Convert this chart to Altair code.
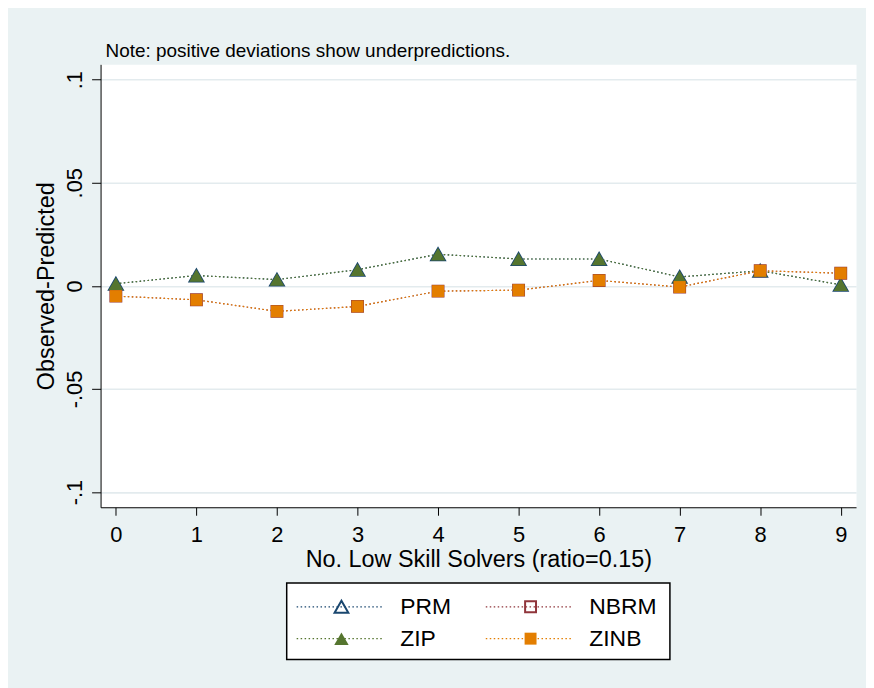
import altair as alt
import pandas as pd

FONT = "Liberation Sans"

# ---- data ----
x_vals = [0, 1, 2, 3, 4, 5, 6, 7, 8, 9]
series_names = ["PRM", "NBRM", "ZIP", "ZINB"]
prm_vals = [0.001, 0.005, 0.003, 0.0078, 0.0153, 0.013, 0.013, 0.0043, 0.0073, 0.0005]
nbrm_vals = [-0.005, -0.0068, -0.0124, -0.010, -0.0026, -0.0021, 0.0026, -0.0006, 0.0073, 0.0061]
zip_vals = [0.001, 0.005, 0.003, 0.0078, 0.0153, 0.013, 0.013, 0.0043, 0.0073, 0.0005]
zinb_vals = [-0.005, -0.0068, -0.0124, -0.010, -0.0026, -0.0021, 0.0026, -0.0006, 0.0073, 0.0061]
y_ticks = [-0.1, -0.05, 0, 0.05, 0.1]

colors = {"PRM": "#1a476f", "NBRM": "#90353b", "ZIP": "#55752f", "ZINB": "#e37e00"}
shapes = {"PRM": "triangle-up", "NBRM": "square", "ZIP": "triangle-up", "ZINB": "square"}
filled = {"PRM": False, "NBRM": False, "ZIP": True, "ZINB": True}
sizes = {"PRM": 190, "NBRM": 120, "ZIP": 210, "ZINB": 144}

rows = []
for name, vals in zip(series_names, [prm_vals, nbrm_vals, zip_vals, zinb_vals]):
    for xv, v in zip(x_vals, vals):
        rows.append({"series": name, "x": xv, "value": v})
df = pd.DataFrame(rows)

X = alt.X("x:Q",
          scale=alt.Scale(domain=[-0.19, 9.19], nice=False, zero=False),
          axis=alt.Axis(values=x_vals, format="d", grid=False, tickSize=8,
                        labelPadding=9, labelFontSize=22,
                        title="No. Low Skill Solvers (ratio=0.15)",
                        titleFontSize=23.5, titlePadding=3))
Y = alt.Y("value:Q",
          scale=alt.Scale(domain=[-0.1074, 0.1074], nice=False, zero=False),
          axis=alt.Axis(values=y_ticks, grid=True, gridColor="#e3ebee", gridWidth=1.6,
                        tickSize=9, labelAngle=270, labelAlign="center",
                        labelBaseline="bottom", labelPadding=5, labelFontSize=22,
                        labelExpr="replace(toString(datum.value), '0.', '.')",
                        title="Observed-Predicted", titleFontSize=23.5, titlePadding=5))

base = alt.Chart(df)
layers = []
for s in series_names:
    d = base.transform_filter(alt.datum.series == s)
    layers.append(d.mark_line(color=colors[s], strokeDash=[1.5, 2.5], strokeWidth=1.2).encode(x=X, y=Y))
    layers.append(d.mark_point(shape=shapes[s], filled=filled[s], color=colors[s],
                               size=sizes[s], opacity=1, strokeWidth=2).encode(x=X, y=Y))

plot = alt.layer(*layers).properties(
    width=759, height=445,
    view=alt.ViewBackground(fill="white", stroke="transparent"),
    title=alt.TitleParams("Note: positive deviations show underpredictions.",
                          anchor="start", frame="group", fontSize=19, fontWeight="normal",
                          font=FONT, color="black", baseline="alphabetic", offset=-12, dx=5),
)

# ---- legend panel ----
legend_cols = [0, 1, 0, 1]
legend_rows = [0, 0, 1, 1]
leg_df = pd.DataFrame({"series": series_names, "col": legend_cols, "row": legend_rows})
lbase = alt.Chart(leg_df).transform_calculate(
    lx1="10 + 190 * datum.col",
    lx2="96 + 190 * datum.col",
    mx="55 + 190 * datum.col",
    tx="114 + 190 * datum.col",
    ly="24 + 32 * datum.row",
)
LXS = alt.Scale(domain=[0, 385], nice=False, zero=False)
LYS = alt.Scale(domain=[0, 77], nice=False, zero=False, reverse=True)
leg_layers = []
for s in series_names:
    d = lbase.transform_filter(alt.datum.series == s)
    leg_layers.append(d.mark_rule(color=colors[s], strokeDash=[1.5, 2.5], strokeWidth=1.2).encode(
        x=alt.X("lx1:Q", scale=LXS, axis=None), x2="lx2:Q",
        y=alt.Y("ly:Q", scale=LYS, axis=None)))
    leg_layers.append(d.mark_point(shape=shapes[s], filled=filled[s], color=colors[s],
                                   size=sizes[s], opacity=1, strokeWidth=2).encode(
        x=alt.X("mx:Q", scale=LXS, axis=None), y=alt.Y("ly:Q", scale=LYS, axis=None)))
leg_layers.append(lbase.mark_text(align="left", baseline="middle", fontSize=23, font=FONT,
                                  color="black").encode(
    x=alt.X("tx:Q", scale=LXS, axis=None), y=alt.Y("ly:Q", scale=LYS, axis=None),
    text="series:N"))

legend = alt.layer(*leg_layers).properties(
    width=385, height=77,
    view=alt.ViewBackground(fill="white", stroke="black", strokeWidth=1.5),
)

chart = alt.vconcat(plot, legend, spacing=76, center=True, bounds="flush").properties(
    background="#eaf2f3",
    padding={"left": 26, "top": 32, "right": 9, "bottom": 30},
).configure_axis(
    labelFont=FONT, titleFont=FONT, labelColor="black", titleColor="black",
    domainColor="black", tickColor="black", domainWidth=1, tickWidth=1,
    titleFontWeight="normal",
)

chart.save("out.html", embed_options={"renderer": "svg", "actions": False})
